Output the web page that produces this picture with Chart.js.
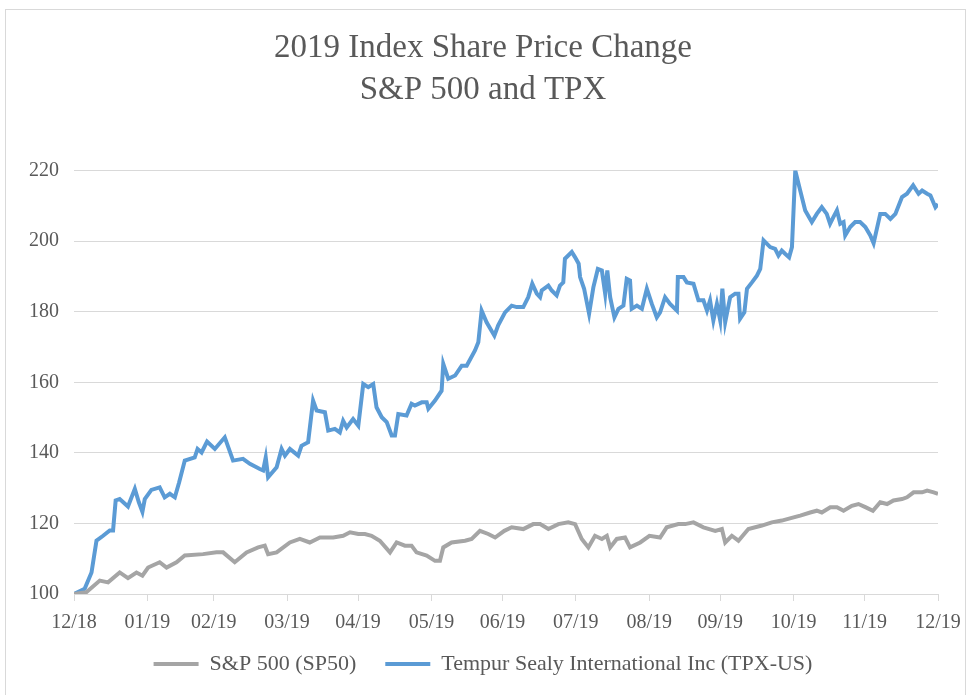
<!DOCTYPE html>
<html>
<head>
<meta charset="utf-8">
<title>2019 Index Share Price Change</title>
<script src="https://cdn.jsdelivr.net/npm/chart.js@4.4.1/dist/chart.umd.min.js"></script>
<style>
  body { margin: 0; background: #fff; }
  #wrap { position: relative; width: 966px; height: 695px; }
  #frame { position: absolute; left: 5px; top: 9px; width: 959px; height: 690px; border: 1px solid #d9d9d9; pointer-events: none; }
</style>
</head>
<body>
<div id="wrap">
  <canvas id="priceChart" width="966" height="695"></canvas>
  <div id="frame"></div>
</div>
<script>
// x = days after 31 Dec 2018
var monthDays = [0, 31, 59, 90, 120, 151, 181, 212, 243, 273, 304, 334, 365];
var monthLabels = ["12/18", "01/19", "02/19", "03/19", "04/19", "05/19", "06/19", "07/19", "08/19", "09/19", "10/19", "11/19", "12/19"];
var yTicks = [100, 120, 140, 160, 180, 200, 220];

var spxDays = [0, 5.2, 10.9, 14.4, 19.3, 22.8, 26.4, 28.9, 31.3, 36.2, 39.1, 43.3, 46.8, 54.5, 60.2, 63, 67.9, 72.9, 77.8, 80.6, 82, 85.6, 91.2, 95.4, 99.6, 103.9, 109.5, 113.7, 116.6, 120.1, 122.9, 125.7, 129.2, 133.5, 136.3, 139.8, 142.6, 144.7, 149, 152.5, 154.6, 156, 159.5, 165.2, 168, 171.5, 175, 177.9, 181.8, 184.9, 189.8, 194, 196.9, 200.4, 204.6, 208.8, 211.7, 214.5, 217.3, 220.1, 223, 225.1, 226.5, 229.3, 232.8, 234.9, 239.2, 243.1, 247.6, 250.4, 255.3, 258.2, 261.7, 265.9, 270.9, 273.7, 275.1, 277.9, 280.7, 284.9, 290.6, 294.8, 299, 304, 306.8, 311, 313.8, 315.9, 319.5, 322.3, 325.1, 328.6, 331.4, 334.3, 337.5, 340.6, 343.5, 346.2, 349.8, 351.9, 354.7, 358.3, 360.4, 363.2, 365];
var spxValues = [100, 100.5, 103.8, 103.3, 106.1, 104.5, 106.1, 105.2, 107.5, 109, 107.5, 109, 110.9, 111.3, 111.8, 111.8, 109, 111.8, 113.2, 113.7, 111.3, 111.8, 114.6, 115.6, 114.6, 116, 116, 116.5, 117.5, 117, 117, 116.5, 115.1, 111.8, 114.6, 113.7, 113.7, 111.8, 110.9, 109.4, 109.4, 113.2, 114.6, 115.1, 115.6, 117.9, 117, 116, 117.9, 118.9, 118.4, 119.8, 119.8, 118.4, 119.8, 120.3, 119.8, 115.6, 113.2, 116.5, 115.6, 116.5, 113.2, 115.6, 116, 113.2, 114.6, 116.5, 116, 118.9, 119.8, 119.8, 120.3, 118.9, 117.9, 118.4, 114.6, 116.5, 115.1, 118.4, 119.4, 120.3, 120.8, 121.7, 122.2, 123.1, 123.6, 123.1, 124.6, 124.6, 123.6, 125, 125.5, 124.6, 123.6, 126, 125.5, 126.5, 126.9, 127.4, 128.8, 128.8, 129.3, 128.8, 128.4];

var tpxDays = [0, 4.5, 7.4, 9.5, 12.3, 15.1, 16.5, 17.6, 19.3, 22.8, 25.7, 27.4, 28.9, 29.9, 32.7, 36.2, 38.3, 40.5, 42.6, 44.4, 46.8, 51, 52.2, 53.9, 56.2, 59.5, 63.7, 67.2, 71.4, 74.3, 78.5, 79.9, 81, 82, 85.6, 87.7, 89.1, 91.2, 94.7, 96.1, 98.9, 101, 102.5, 106, 107.4, 110.2, 112.3, 113.7, 115.2, 117.9, 120.1, 122.2, 124.3, 126.4, 127.8, 130, 132.1, 134.2, 135.6, 137, 140.5, 142.6, 144, 146.9, 149, 149.7, 152.5, 155.3, 156, 158.1, 161, 163.8, 165.9, 169.4, 170.8, 172.2, 174.3, 177.6, 179.2, 182.1, 184.9, 187, 189.8, 191.9, 193.6, 195.5, 196.9, 197.6, 200.4, 201.8, 203.9, 205.3, 206.7, 207.4, 210.3, 211.7, 213.2, 213.8, 215.5, 217.6, 219.4, 221.3, 223, 224.4, 225.3, 226.5, 228.3, 230, 232.1, 233.5, 234.9, 235.6, 237.8, 239.9, 242, 244.1, 246.2, 247.6, 249.7, 251.8, 254.7, 255.1, 257.5, 258.9, 261.7, 263.8, 265.9, 267.4, 268.7, 270.1, 271.6, 273, 273.9, 275.1, 277.2, 279.3, 280.7, 281.4, 283.2, 284.3, 286.4, 288.5, 289.9, 291.3, 294.1, 296.2, 297.6, 299, 300.4, 302.1, 303.3, 304.7, 306.8, 308.9, 311.7, 313.8, 315.9, 318, 319.4, 320.8, 322.3, 323.7, 325.1, 325.8, 327.9, 330, 332.1, 334.3, 336.4, 337.8, 340.6, 342.7, 344.9, 347, 349.8, 351.9, 354.5, 356.8, 358.3, 360.4, 361.8, 363.9, 365];
var tpxValues = [100, 101.5, 106.1, 115.1, 116.5, 118, 118, 126.5, 126.9, 124.8, 129.8, 126, 123.3, 126.9, 129.5, 130.2, 127.4, 128.4, 127.4, 131.6, 137.8, 138.7, 141.1, 140.1, 143.2, 141.1, 144.4, 137.8, 138.3, 136.9, 135.4, 135, 138.7, 133.1, 135.9, 141.1, 139.2, 141.1, 139.2, 142, 143, 154.8, 152, 151.5, 146.3, 146.8, 145.8, 149.1, 147.2, 149.6, 147.7, 159.5, 158.6, 159.5, 152.9, 150.1, 148.7, 144.9, 144.9, 151, 150.6, 153.9, 153.4, 154.3, 154.3, 152.5, 154.8, 157.6, 165.2, 161, 161.9, 164.7, 164.7, 169, 171.3, 180.3, 177, 173.2, 176.1, 179.8, 181.7, 181.3, 181.3, 184.1, 187.9, 185.1, 184.1, 186, 187.4, 186, 184.6, 187.4, 188.3, 195, 196.9, 195.4, 193.6, 189.8, 186.5, 179.4, 186.9, 192.1, 191.7, 185.1, 191.7, 184.1, 178.4, 180.8, 181.7, 189.3, 188.8, 180.8, 181.7, 180.8, 186.5, 182.2, 178.4, 179.8, 184.1, 182.2, 180.3, 189.8, 189.8, 188.3, 187.9, 183.2, 183.2, 180.3, 183.2, 177.5, 182.2, 177.5, 186.5, 177, 184.1, 185.1, 185.1, 178, 179.8, 186.5, 188.3, 190.2, 192.1, 200.2, 198.3, 197.8, 195.9, 197.3, 196.4, 195.4, 198.3, 220, 214.3, 208.7, 205.4, 207.7, 209.6, 207.7, 204.9, 206.8, 208.7, 204.9, 205.4, 201.6, 204, 205.4, 205.4, 204, 201.6, 199.4, 207.7, 207.7, 206.3, 207.7, 212.5, 213.4, 215.8, 213.4, 214.3, 213.4, 212.9, 209.6, 210.5];

function toPoints(days, values) {
  var pts = [];
  for (let i = 0; i < days.length; i++) {
    pts.push({ x: days[i], y: values[i] });
  }
  return pts;
}

var serif = "'Liberation Serif', 'Times New Roman', serif";
var textColor = '#595959';
var gridColor = '#d9d9d9';

var ctx = document.getElementById('priceChart').getContext('2d');
var priceChart = new Chart(ctx, {
  type: 'line',
  data: {
    datasets: [{
      label: 'S&P 500 (SP50)',
      data: toPoints(spxDays, spxValues),
      borderColor: '#a5a5a5',
      backgroundColor: '#a5a5a5',
      borderWidth: 4,
      pointRadius: 0,
      tension: 0,
      fill: false
    }, {
      label: 'Tempur Sealy International Inc (TPX-US)',
      data: toPoints(tpxDays, tpxValues),
      borderColor: '#5b9bd5',
      backgroundColor: '#5b9bd5',
      borderWidth: 4,
      pointRadius: 0,
      tension: 0,
      fill: false
    }]
  },
  options: {
    responsive: false,
    animation: false,
    // same padding both sides so title and legend stay centred
    layout: { padding: { left: 28, right: 28, top: 0, bottom: 10 } },
    plugins: {
      title: {
        display: true,
        text: ['2019 Index Share Price Change', 'S&P 500 and TPX'],
        color: textColor,
        font: { family: serif, size: 33, weight: 'normal', lineHeight: 1.25 },
        padding: { top: 28, bottom: 60 }
      },
      legend: {
        display: true,
        position: 'bottom',
        labels: {
          color: textColor,
          font: { family: serif, size: 22 },
          boxWidth: 45,
          boxHeight: 4,
          padding: 29,
          generateLabels: function(chart) {
            var items = Chart.defaults.plugins.legend.labels.generateLabels(chart);
            items.forEach(function(it) {
              it.lineWidth = 0;
              it.fillStyle = it.strokeStyle;
            });
            return items;
          }
        }
      },
      tooltip: { enabled: false }
    },
    scales: {
      x: {
        type: 'linear',
        min: monthDays[0],
        max: monthDays[monthDays.length - 1],
        afterBuildTicks: function(scale) {
          scale.ticks = monthDays.map(function(d) { return { value: d }; });
        },
        afterFit: function(scale) {
          // end labels may hang over the plot edges, like the original
          scale.paddingLeft = 0;
          scale.paddingRight = 0;
          // let the axis box overlap the legend's top padding
          scale.height = scale.height - 21;
          // and don't cut the labels off at the shortened box
          scale._computeLabelArea = function() { return undefined; };
        },
        ticks: {
          autoSkip: false,
          maxRotation: 0,
          color: textColor,
          padding: 10,
          font: { family: serif, size: 20 },
          callback: function(value) {
            var i = monthDays.indexOf(value);
            return i >= 0 ? monthLabels[i] : '';
          }
        },
        grid: {
          drawOnChartArea: false,
          drawTicks: true,
          tickLength: 7,
          color: gridColor
        },
        border: { display: true, color: gridColor, width: 1 }
      },
      y: {
        min: yTicks[0],
        max: yTicks[yTicks.length - 1],
        afterBuildTicks: function(scale) {
          scale.ticks = yTicks.map(function(v) { return { value: v }; });
        },
        afterFit: function(scale) {
          scale.width = 46;
        },
        ticks: {
          color: textColor,
          padding: 15,
          font: { family: serif, size: 20 }
        },
        grid: {
          drawTicks: false,
          color: gridColor,
          lineWidth: 1
        },
        border: { display: false }
      }
    }
  }
});
</script>
</body>
</html>
